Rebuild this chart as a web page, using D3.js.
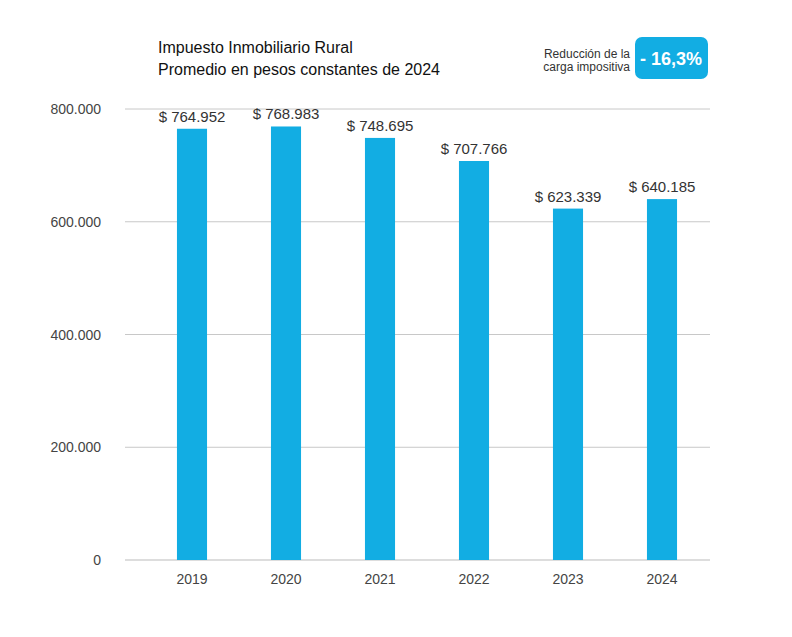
<!DOCTYPE html>
<html><head><meta charset="utf-8">
<script src="https://cdn.jsdelivr.net/npm/d3@7"></script>
<style>body{margin:0;background:#fff;font-family:"Liberation Sans",Arial,sans-serif}</style>
</head><body><svg id="c" width="792" height="637"></svg>
<script>
const years=["2019","2020","2021","2022","2023","2024"];
const values=[764952,768983,748695,707766,623339,640185];
const labels=["$ 764.952","$ 768.983","$ 748.695","$ 707.766","$ 623.339","$ 640.185"];
const ticks=[0,200000,400000,600000,800000];
const tickLabels=["0","200.000","400.000","600.000","800.000"];
const svg=d3.select("#c");
const y=d3.scaleLinear().domain([0,800000]).range([560,109]);
const x=d3.scaleBand().domain(years).range([145,709]).paddingInner(0.68).paddingOuter(0.34);
ticks.forEach((t,i)=>{
 svg.append("line").attr("x1",125).attr("x2",710).attr("y1",y(t)).attr("y2",y(t)).attr("stroke",i==0?"#bbb":"#c8c8c8");
 svg.append("text").attr("x",101).attr("y",y(t)+5).attr("text-anchor","end").attr("font-size",14).attr("fill","#444").text(tickLabels[i]);
});
years.forEach((yr,i)=>{
 const cx=x(yr)+x.bandwidth()/2;
 svg.append("rect").attr("x",x(yr)).attr("width",x.bandwidth()).attr("y",y(values[i])).attr("height",560-y(values[i])).attr("fill","#12ade3");
 svg.append("text").attr("x",cx).attr("y",y(values[i])-7).attr("text-anchor","middle").attr("font-size",15).attr("fill","#333").text(labels[i]);
 svg.append("text").attr("x",cx).attr("y",584).attr("text-anchor","middle").attr("font-size",14).attr("fill","#444").text(yr);
});
svg.append("text").attr("x",158).attr("y",53).attr("font-size",16).attr("fill","#111").text("Impuesto Inmobiliario Rural");
svg.append("text").attr("x",158).attr("y",75).attr("font-size",16).attr("fill","#111").text("Promedio en pesos constantes de 2024");
svg.append("text").attr("x",630).attr("y",58).attr("text-anchor","end").attr("font-size",12).attr("fill","#333").text("Reducción de la");
svg.append("text").attr("x",630).attr("y",71).attr("text-anchor","end").attr("font-size",12).attr("fill","#333").text("carga impositiva");
svg.append("rect").attr("x",635).attr("y",37).attr("width",73).attr("height",42).attr("rx",7).attr("fill","#12ade3");
svg.append("text").attr("x",671).attr("y",65).attr("text-anchor","middle").attr("font-size",18).attr("font-weight","bold").attr("fill","#fff").text("- 16,3%");
</script></body></html>
